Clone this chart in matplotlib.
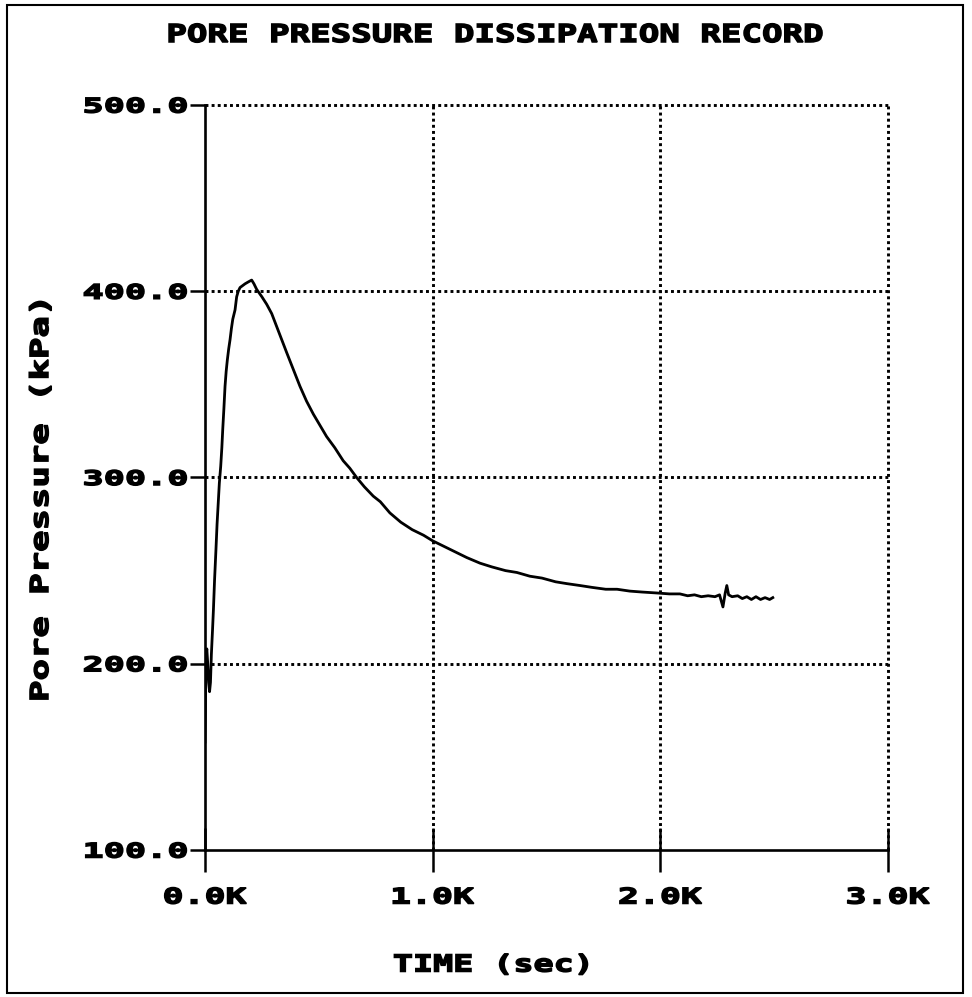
import matplotlib
matplotlib.use("Agg")
import matplotlib.pyplot as plt
from matplotlib.patheffects import AbstractPathEffect
from matplotlib.transforms import Affine2D
from matplotlib.patches import Rectangle

# ---------------- data ----------------
time_s = [0, 2, 4, 8, 12, 16, 20, 24, 28, 33, 37, 42, 48, 53, 58, 63, 69, 74, 78,
          83, 88, 93, 98, 104, 110, 116, 122, 132, 139, 146, 154, 165, 176, 190,
          205, 215, 227, 250, 271, 293, 315, 337, 359, 388, 417, 446, 476, 505,
          534, 570, 607, 636, 666, 700, 739, 770, 812, 860, 910, 960, 1000, 1050,
          1100, 1150, 1208, 1260, 1320, 1370, 1427, 1480, 1540, 1590, 1647, 1700,
          1760, 1810, 1866, 1920, 1984, 2040, 2086, 2120, 2150, 2180, 2210, 2240,
          2260, 2275, 2285, 2292, 2300, 2315, 2340, 2360, 2380, 2400, 2420, 2440,
          2460, 2480, 2494]
pressure_kpa = [158, 175, 203, 208, 200, 190, 185, 190, 205, 218, 229, 245, 261,
                275, 286, 297, 306, 316, 326, 337, 349, 357, 363, 369, 374, 380,
                385, 390, 397, 400, 402, 403, 404, 405, 406, 404, 401, 397, 393,
                388, 381, 374, 367, 358, 349, 341, 334, 328, 322, 316, 309, 305,
                300, 295, 290, 287, 281, 276, 272, 269, 266, 263, 260, 257, 254,
                252, 250, 249, 247, 246, 244, 243, 242, 241, 240, 240, 239, 238.5,
                238, 237.5, 237.5, 236.5, 237, 236, 236.5, 236, 237, 230.5, 238,
                242, 237, 236, 236.5, 235, 236, 234.5, 236, 234.5, 235.5, 234.5,
                235.5]

x_ticks = [0, 1000, 2000, 3000]
x_tick_labels = ["0.0K", "1.0K", "2.0K", "3.0K"]
y_ticks = [100, 200, 300, 400, 500]
y_tick_labels = ["100.0", "200.0", "300.0", "400.0", "500.0"]

title_text = "PORE PRESSURE DISSIPATION RECORD"
x_label = "TIME (sec)"
y_label = "Pore Pressure (kPa)"


# ------------- path effect that widens / emboldens glyphs (keeps real text) -------------
class Stretch(AbstractPathEffect):
    def __init__(self, sx=1.0, sy=1.0, anchor="center", lw=1.0):
        super().__init__()
        self.sx, self.sy, self.anchor, self.lw = sx, sy, anchor, lw

    def draw_path(self, renderer, gc, tpath, affine, rgbFace=None):
        bb = tpath.get_extents(affine)
        cy = 0.5 * (bb.y0 + bb.y1)
        if self.anchor == "right":
            cx = bb.x1
        elif self.anchor == "left":
            cx = bb.x0
        else:
            cx = 0.5 * (bb.x0 + bb.x1)
        t = affine + Affine2D().translate(-cx, -cy).scale(self.sx, self.sy).translate(cx, cy)
        gc0 = renderer.new_gc()
        gc0.copy_properties(gc)
        if rgbFace is not None:
            gc0.set_foreground(rgbFace)
        gc0.set_linewidth(self.lw)
        gc0.set_joinstyle("miter")
        renderer.draw_path(gc0, tpath, t, rgbFace)
        gc0.restore()


W, H = 972, 997
fig = plt.figure(figsize=(W / 100, H / 100), dpi=100)
fig.patch.set_facecolor("white")

# figure frame
fig.add_artist(Rectangle((7 / W, 1 - 993 / H), (963 - 7) / W, (993 - 5) / H,
                         transform=fig.transFigure, fill=False,
                         edgecolor="black", linewidth=1.5))

ax = fig.add_axes([205 / W, 1 - 850 / H, (888 - 205) / W, (850 - 105) / H])
ax.set_xlim(0, 3000)
ax.set_ylim(100, 500)

ax.plot(time_s, pressure_kpa, color="black", linewidth=2.0, zorder=3)

FONT = "DejaVu Sans Mono"

ax.set_xticks(x_ticks)
ax.set_xticklabels(x_tick_labels, fontfamily=FONT, fontweight="bold", fontsize=15.5)
ax.set_yticks(y_ticks)
ax.set_yticklabels(y_tick_labels, fontfamily=FONT, fontweight="bold", fontsize=14.5)

ax.tick_params(axis="x", direction="inout", length=32, width=1.8, pad=11,
               colors="black")
ax.tick_params(axis="y", direction="out", length=11, width=1.8, pad=1.5,
               colors="black")

for lbl in ax.get_xticklabels():
    lbl.set_path_effects([Stretch(sx=1.62, lw=1.1)])
for lbl in ax.get_yticklabels():
    lbl.set_path_effects([Stretch(sx=1.75, anchor="right", lw=1.1)])

# grid (dotted)
DOT = (0, (1, 1.1))
for yv in y_ticks[1:]:
    ax.axhline(yv, color="black", linewidth=2.1, linestyle=DOT, zorder=1,
               clip_on=False)
for xv in x_ticks[1:]:
    ax.axvline(xv, color="black", linewidth=2.1, linestyle=DOT, zorder=1,
               clip_on=False)

for s in ["top", "right"]:
    ax.spines[s].set_visible(False)
for s in ["left", "bottom"]:
    ax.spines[s].set_linewidth(1.9)
    ax.spines[s].set_color("black")

# title
ttl = fig.suptitle(title_text, x=495 / W, y=1 - 35 / H, ha="center", va="center",
                   fontfamily=FONT, fontweight="bold", fontsize=17.8)
ttl.set_path_effects([Stretch(sx=1.38, lw=1.1)])

# axis labels
xl = ax.set_xlabel(x_label, fontfamily=FONT, fontweight="bold", fontsize=16.8,
                   va="center", ha="center")
ax.xaxis.set_label_coords((493 - 205) / (888 - 205), (850 - 965) / (850 - 105))
xl.set_path_effects([Stretch(sx=1.43, lw=1.1)])

yl = ax.set_ylabel(y_label, fontfamily=FONT, fontweight="bold", fontsize=17.8,
                   va="center", ha="center")
ax.yaxis.set_label_coords((41 - 205) / (888 - 205), (850 - 499) / (850 - 105))
yl.set_path_effects([Stretch(sy=1.44, lw=1.1)])

fig.savefig("out.png", dpi=100, facecolor="white")
